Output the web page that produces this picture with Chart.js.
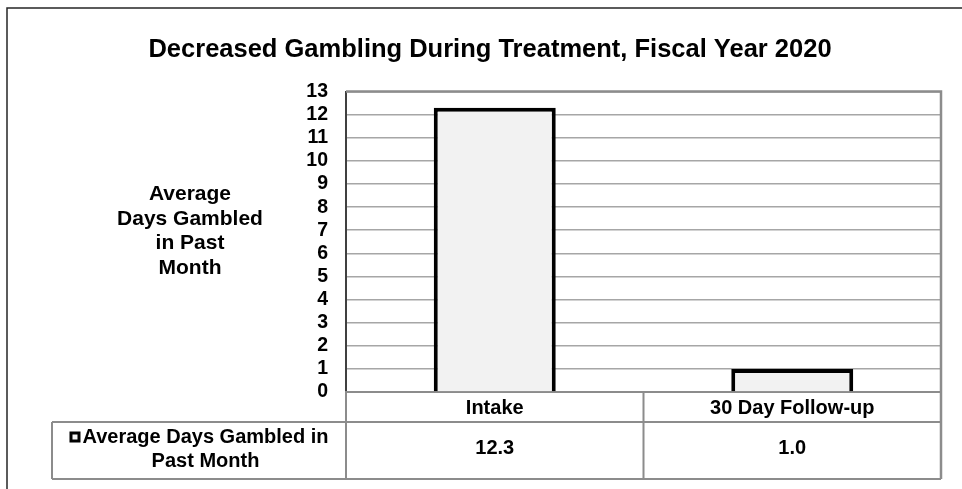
<!DOCTYPE html>
<html>
<head>
<meta charset="utf-8">
<script src="https://cdn.jsdelivr.net/npm/chart.js@4.4.1/dist/chart.umd.min.js"></script>
<style>
  html, body { margin: 0; padding: 0; background: #fff; }
  #wrap { width: 962px; height: 489px; }
</style>
</head>
<body>
<div id="wrap"><canvas id="chart" width="962" height="489"></canvas></div>
<script>
// chart data
const chartTitle = 'Decreased Gambling During Treatment, Fiscal Year 2020';
const categories = ['Intake', '30 Day Follow-up'];
const seriesLines = ['Average Days Gambled in', 'Past Month'];
const daysGambled = [12.3, 1.0];
const yAxisLines = ['Average', 'Days Gambled', 'in Past', 'Month'];
const yMin = 0, yMax = 13, yStep = 1;

const FONT = 'Arial, "Liberation Sans", sans-serif';
const GRID = '#a6a6a6';
const FRAME = '#8c8c8c';

// frame, y-axis title and data table underneath the plot
const tablePlugin = {
    id: 'dataTable',
    afterDraw(chart) {
        const { ctx, chartArea: a, scales: { x } } = chart;
        const rowMid = a.bottom + 30;
        const rowBot = a.bottom + 87;
        const tableLeft = 52;
        const cols = [a.left];
        for (let i = 0; i < categories.length - 1; i++) {
            cols.push((x.getPixelForValue(i) + x.getPixelForValue(i + 1)) / 2);
        }
        cols.push(a.right);

        ctx.save();
        // outer chart border
        ctx.strokeStyle = '#262626';
        ctx.lineWidth = 1.5;
        ctx.beginPath();
        ctx.moveTo(7, chart.height);
        ctx.lineTo(7, 8);
        ctx.lineTo(chart.width, 8);
        ctx.stroke();

        // plot frame top + right
        ctx.strokeStyle = FRAME;
        ctx.lineWidth = 2.5;
        ctx.beginPath();
        ctx.moveTo(a.left, a.top);
        ctx.lineTo(a.right, a.top);
        ctx.lineTo(a.right, rowBot);
        ctx.stroke();

        // table lines
        ctx.lineWidth = 2;
        ctx.beginPath();
        cols.forEach((cx, i) => {
            if (i === cols.length - 1) return;
            ctx.moveTo(cx, a.bottom);
            ctx.lineTo(cx, rowBot);
        });
        ctx.moveTo(tableLeft, rowMid);
        ctx.lineTo(a.right, rowMid);
        ctx.moveTo(tableLeft, rowBot);
        ctx.lineTo(a.right, rowBot);
        ctx.moveTo(tableLeft, rowMid);
        ctx.lineTo(tableLeft, rowBot);
        ctx.stroke();

        ctx.fillStyle = '#000';
        ctx.textBaseline = 'middle';
        ctx.textAlign = 'center';

        // values row
        ctx.font = 'bold 20px ' + FONT;
        const valY = (rowMid + rowBot) / 2 - 2;
        daysGambled.forEach((v, i) => {
            ctx.fillText(v.toFixed(1), (cols[i] + cols[i + 1]) / 2, valY);
        });

        // series label with legend key
        const cellCx = (tableLeft + a.left) / 2;
        const keySize = 11;
        const w1 = ctx.measureText(seriesLines[0]).width;
        const startX = cellCx - (keySize + 2 + w1) / 2;
        const l1y = rowMid + 15, l2y = rowMid + 39;
        const ds = chart.data.datasets[0];
        ctx.fillStyle = ds.borderColor;
        ctx.fillRect(startX, l1y - keySize / 2, keySize, keySize);
        ctx.fillStyle = ds.backgroundColor;
        ctx.fillRect(startX + 3, l1y - keySize / 2 + 3, keySize - 6, keySize - 6);
        ctx.fillStyle = '#000';
        ctx.textAlign = 'left';
        ctx.fillText(seriesLines[0], startX + keySize + 2, l1y);
        ctx.textAlign = 'center';
        ctx.fillText(seriesLines[1], startX + keySize + 2 + w1 / 2, l2y);

        // y axis title (horizontal, stacked)
        ctx.font = 'bold 21px ' + FONT;
        const lh = 24.7;
        const blockMid = a.top + (a.bottom - a.top) * 0.465;
        yAxisLines.forEach((t, i) => {
            ctx.fillText(t, 190, blockMid + (i - (yAxisLines.length - 1) / 2) * lh);
        });
        ctx.restore();
    }
};

new Chart(document.getElementById('chart'), {
    type: 'bar',
    data: {
        labels: categories,
        datasets: [{
            label: seriesLines.join(' '),
            data: daysGambled,
            backgroundColor: '#f2f2f2',
            borderColor: '#000000',
            borderWidth: 4,
            borderSkipped: 'start',
            barPercentage: 0.41,
            categoryPercentage: 1
        }]
    },
    options: {
        responsive: false,
        animation: false,
        layout: { padding: { left: 39, right: 21, top: 0, bottom: 0 } },
        plugins: {
            legend: { display: false },
            tooltip: { enabled: false },
            title: {
                display: true,
                text: chartTitle,
                color: '#000',
                font: { family: FONT, size: 25.5, weight: 'bold' },
                padding: { top: 35, bottom: 26 }
            }
        },
        scales: {
            y: {
                min: yMin,
                max: yMax,
                ticks: {
                    stepSize: yStep,
                    autoSkip: false,
                    color: '#000',
                    padding: 18,
                    font: { family: FONT, size: 19.5, weight: 'bold' }
                },
                grid: { color: GRID, lineWidth: 1.5, drawTicks: false },
                border: { color: '#404040', width: 2 },
                afterFit: s => { s.width = 307; }
            },
            x: {
                ticks: {
                    color: '#000',
                    padding: 4,
                    font: { family: FONT, size: 20, weight: 'bold' }
                },
                grid: { display: false, drawTicks: false },
                border: { color: FRAME, width: 2 },
                afterFit: s => { s.height = 97; }
            }
        }
    },
    plugins: [tablePlugin]
});
</script>
</body>
</html>
